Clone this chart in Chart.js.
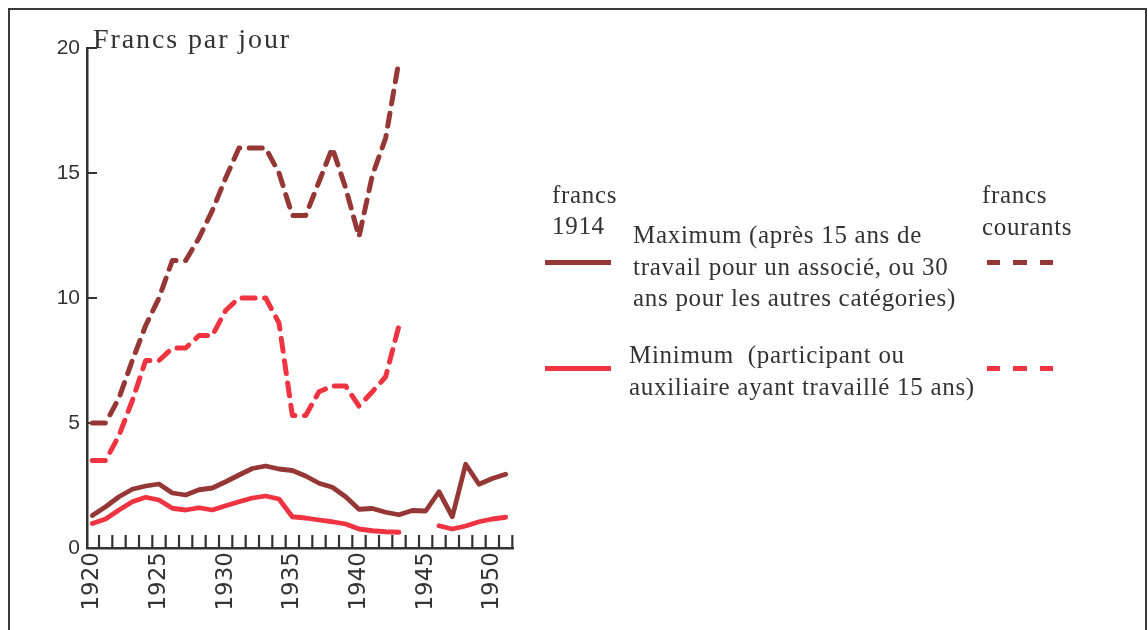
<!DOCTYPE html>
<html>
<head>
<meta charset="utf-8">
<title>Francs par jour</title>
<script src="https://cdn.jsdelivr.net/npm/chart.js@4"></script>
<style>
  html, body { margin: 0; padding: 0; background: #fff; overflow: hidden; }
  #wrap { position: relative; width: 1148px; height: 630px; overflow: hidden; }
  #frame { position: absolute; left: 8px; top: 8px; width: 1139px; height: 700px;
           border: 2.5px solid #3a3a3a; box-sizing: border-box; }
  canvas { position: absolute; left: 0; top: 0; }
  .txt { position: absolute; font-family: "Liberation Serif", "Times New Roman", serif;
         font-size: 25px; line-height: 32px; color: #333; letter-spacing: 0.7px; white-space: pre; }
  .key { position: absolute; height: 5px; width: 66px; }
</style>
</head>
<body>
<div id="wrap">
  <div id="frame"></div>
  <canvas id="wages" width="1148" height="630"></canvas>

  <div class="txt" style="left:93px; top:23px; font-size:28px; letter-spacing:1.9px;">Francs par jour</div>

  <div class="txt" style="left:552px; top:179px;">francs</div>
  <div class="txt" style="left:552px; top:210px;">1914</div>
  <div class="txt" style="left:982px; top:179px;">francs</div>
  <div class="txt" style="left:982px; top:211px;">courants</div>

  <div class="txt" style="left:633px; top:219px;">Maximum (après 15 ans de</div>
  <div class="txt" style="left:633px; top:251px;">travail pour un associé, ou 30</div>
  <div class="txt" style="left:633px; top:282px;">ans pour les autres catégories)</div>
  <div class="txt" style="left:629px; top:339px;">Minimum  (participant ou</div>
  <div class="txt" style="left:629px; top:371px;">auxiliaire ayant travaillé 15 ans)</div>

  <div class="key" style="left:545px; top:260px; background:#953735;"></div>
  <div class="key" style="left:545px; top:366px; background:#ef3340;"></div>
  <div class="key" style="left:987px; top:260px; background:repeating-linear-gradient(to right, #953735 0 13.5px, transparent 13.5px 26.5px);"></div>
  <div class="key" style="left:987px; top:366px; background:repeating-linear-gradient(to right, #ef3340 0 13.5px, transparent 13.5px 26.5px);"></div>
</div>

<script>
// Daily wages, 1920-1951
const years = [1920, 1921, 1922, 1923, 1924, 1925, 1926, 1927, 1928, 1929,
               1930, 1931, 1932, 1933, 1934, 1935, 1936, 1937, 1938, 1939,
               1940, 1941, 1942, 1943, 1944, 1945, 1946, 1947, 1948, 1949,
               1950, 1951];

// in 1914 francs
const maxFr1914 = [1.3, 1.65, 2.05, 2.35, 2.48, 2.56, 2.2, 2.12, 2.33, 2.4,
                   2.65, 2.92, 3.18, 3.28, 3.16, 3.1, 2.88, 2.59, 2.43, 2.05,
                   1.55, 1.58, 1.43, 1.33, 1.5, 1.48, 2.25, 1.25, 3.35, 2.55,
                   2.78, 2.95];
const minFr1914 = [0.98, 1.16, 1.52, 1.85, 2.03, 1.92, 1.59, 1.52, 1.61, 1.52,
                   1.69, 1.85, 2.0, 2.08, 1.96, 1.25, 1.2, 1.12, 1.05, 0.96,
                   0.76, 0.69, 0.65, 0.63, null, null, 0.89, 0.76, 0.88, 1.05,
                   1.16, 1.23];

// in current francs
const maxCourants = [5, 5, 6, 7.5, 8.9, 10, 11.5, 11.5, 12.4, 13.5,
                     14.8, 16, 16, 16, 15, 13.3, 13.3, 14.65, 16, 14.4,
                     12.45, 14.9, 16.4, 19.5, null, null, null, null, null, null,
                     null, null];
const minCourants = [3.5, 3.5, 4.5, 5.9, 7.5, 7.5, 8, 8, 8.5, 8.5,
                     9.5, 10, 10, 10, 9, 5.3, 5.3, 6.25, 6.48, 6.48,
                     5.68, 6.25, 6.85, 8.9, null, null, null, null, null, null,
                     null, null];

const yTicks = [0, 5, 10, 15, 20];
const yearLabels = [1920, 1925, 1930, 1935, 1940, 1945, 1950];

const DARK = '#953735';
const RED = '#ef3340';
const INK = '#333';

const points = arr => years.map((yr, i) => ({ x: yr, y: arr[i] }));

// short inward tick marks on both axes
const tickMarks = {
  id: 'tickMarks',
  beforeDatasetsDraw(chart) {
    const { ctx, chartArea: a, scales: { x, y } } = chart;
    ctx.save();
    ctx.strokeStyle = INK;
    ctx.lineWidth = 2.2;
    ctx.beginPath();
    years.forEach(yr => {
      const px = x.getPixelForValue(yr + 0.5);
      ctx.moveTo(px, a.bottom);
      ctx.lineTo(px, a.bottom - 13);
    });
    yTicks.forEach(v => {
      if (v === 0) return;
      const py = y.getPixelForValue(v);
      ctx.moveTo(a.left, py);
      ctx.lineTo(a.left + 10, py);
    });
    ctx.stroke();
    ctx.restore();
  }
};

const dash = [13, 9.5];

new Chart(document.getElementById('wages').getContext('2d'), {
  type: 'line',
  data: {
    datasets: [
      { label: 'Maximum, francs courants', data: points(maxCourants), borderColor: DARK, borderWidth: 5, borderDash: dash },
      { label: 'Minimum, francs courants', data: points(minCourants), borderColor: RED, borderWidth: 5, borderDash: dash },
      { label: 'Maximum, francs 1914', data: points(maxFr1914), borderColor: DARK, borderWidth: 4.8 },
      { label: 'Minimum, francs 1914', data: points(minFr1914), borderColor: RED, borderWidth: 4.8 }
    ]
  },
  options: {
    responsive: false,
    animation: false,
    layout: { padding: { left: 0, top: 48, right: 635, bottom: 12 } },
    plugins: { legend: { display: false }, tooltip: { enabled: false } },
    elements: {
      point: { radius: 0 },
      line: { tension: 0, borderCapStyle: 'round', borderJoinStyle: 'round', fill: false }
    },
    scales: {
      x: {
        type: 'linear',
        min: 1919.6,
        max: 1951.55,
        afterBuildTicks: s => { s.ticks = yearLabels.map(v => ({ value: v })); },
        afterFit: s => { s.height = 70; },
        grid: { display: false, drawTicks: false },
        border: { display: true, color: INK, width: 2.5 },
        ticks: {
          autoSkip: false, minRotation: 90, maxRotation: 90, padding: 4,
          color: INK, font: { family: 'DejaVu Sans', size: 23 },
          callback: v => String(v)
        }
      },
      y: {
        min: 0,
        max: 20,
        afterBuildTicks: s => { s.ticks = yTicks.map(v => ({ value: v })); },
        afterFit: s => { s.width = 87; },
        grid: { display: false, drawTicks: false },
        border: { display: true, color: INK, width: 2.5 },
        ticks: {
          padding: 7, color: INK,
          font: { family: '"Liberation Sans Narrow", "Liberation Sans", sans-serif', size: 21 }
        }
      }
    }
  },
  plugins: [tickMarks]
});
</script>
</body>
</html>
